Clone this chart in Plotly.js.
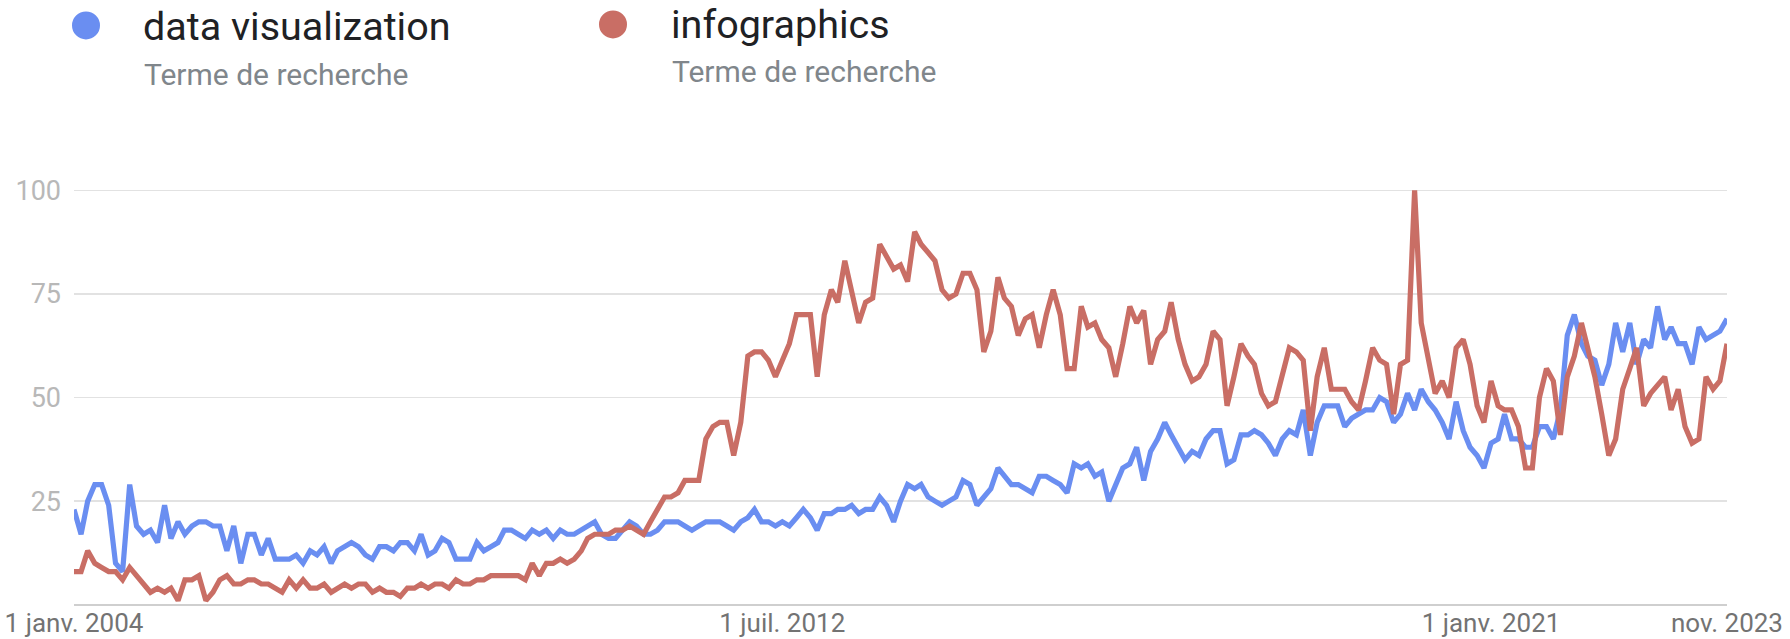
<!DOCTYPE html>
<html>
<head>
<meta charset="utf-8">
<script src="https://cdn.plot.ly/plotly-3.0.1.min.js"></script>
<style>
  html, body { margin: 0; padding: 0; background: #ffffff; }
  #chart { width: 1790px; height: 639px; }
</style>
</head>
<body>
<div id="chart"></div>
<script>
// ---- Data (Google Trends, monthly, Jan 2004 – Nov 2023) ----
const startYear = 2004;
const startMonth = 1;
const monthCount = 239;

const seriesNames = ["data visualization", "infographics"];
const seriesSubtitle = "Terme de recherche";

const dataVisualization = [
  23, 17, 25, 29, 29, 24, 10, 8, 29, 19,
  17, 18, 15, 24, 16, 20, 17, 19, 20, 20,
  19, 19, 13, 19, 10, 17, 17, 12, 16, 11,
  11, 11, 12, 10, 13, 12, 14, 10, 13, 14,
  15, 14, 12, 11, 14, 14, 13, 15, 15, 13,
  17, 12, 13, 16, 15, 11, 11, 11, 15, 13,
  14, 15, 18, 18, 17, 16, 18, 17, 18, 16,
  18, 17, 17, 18, 19, 20, 17, 16, 16, 18,
  20, 19, 17, 17, 18, 20, 20, 20, 19, 18,
  19, 20, 20, 20, 19, 18, 20, 21, 23, 20,
  20, 19, 20, 19, 21, 23, 21, 18, 22, 22,
  23, 23, 24, 22, 23, 23, 26, 24, 20, 25,
  29, 28, 29, 26, 25, 24, 25, 26, 30, 29,
  24, 26, 28, 33, 31, 29, 29, 28, 27, 31,
  31, 30, 29, 27, 34, 33, 34, 31, 32, 25,
  29, 33, 34, 38, 30, 37, 40, 44, 41, 38,
  35, 37, 36, 40, 42, 42, 34, 35, 41, 41,
  42, 41, 39, 36, 40, 42, 41, 47, 36, 44,
  48, 48, 48, 43, 45, 46, 47, 47, 50, 49,
  44, 46, 51, 47, 52, 49, 47, 44, 40, 49,
  42, 38, 36, 33, 39, 40, 46, 40, 40, 38,
  38, 43, 43, 40, 47, 65, 70, 63, 60, 59,
  53, 58, 68, 61, 68, 58, 64, 62, 72, 64,
  67, 63, 63, 58, 67, 64, 65, 66, 69
];

const infographics = [
  8, 8, 13, 10, 9, 8, 8, 6, 9, 7,
  5, 3, 4, 3, 4, 1, 6, 6, 7, 1,
  3, 6, 7, 5, 5, 6, 6, 5, 5, 4,
  3, 6, 4, 6, 4, 4, 5, 3, 4, 5,
  4, 5, 5, 3, 4, 3, 3, 2, 4, 4,
  5, 4, 5, 5, 4, 6, 5, 5, 6, 6,
  7, 7, 7, 7, 7, 6, 10, 7, 10, 10,
  11, 10, 11, 13, 16, 17, 17, 17, 18, 18,
  19, 18, 17, 20, 23, 26, 26, 27, 30, 30,
  30, 40, 43, 44, 44, 36, 44, 60, 61, 61,
  59, 55, 59, 63, 70, 70, 70, 55, 70, 76,
  73, 83, 76, 68, 73, 74, 87, 84, 81, 82,
  78, 90, 87, 85, 83, 76, 74, 75, 80, 80,
  76, 61, 66, 79, 74, 72, 65, 69, 70, 62,
  70, 76, 70, 57, 57, 72, 67, 68, 64, 62,
  55, 63, 72, 68, 71, 58, 64, 66, 73, 64,
  58, 54, 55, 58, 66, 64, 48, 55, 63, 60,
  58, 51, 48, 49, 55, 62, 61, 59, 42, 55,
  62, 52, 52, 52, 49, 47, 54, 62, 59, 58,
  46, 58, 59, 100, 68, 59, 51, 54, 50, 62,
  64, 58, 48, 44, 54, 48, 47, 47, 43, 33,
  33, 50, 57, 54, 41, 55, 60, 68, 62, 55,
  46, 36, 40, 52, 57, 62, 48, 51, 53, 55,
  47, 52, 43, 39, 40, 55, 52, 54, 63
];

const xTickVals = ["2004-01-01", "2012-07-01", "2021-01-01", "2023-11-01"];
const xTickText = ["1 janv. 2004", "1 juil. 2012", "1 janv. 2021", "nov. 2023"];
const yTickVals = [25, 50, 75, 100];
const yTickText = ["25", "50", "75", "100"];

// ---- month axis ----
const months = [];
for (let k = 0; k < monthCount; k++) {
  const m0 = (startMonth - 1) + k;
  const y = startYear + Math.floor(m0 / 12);
  const m = (m0 % 12) + 1;
  months.push(y + "-" + String(m).padStart(2, "0") + "-01");
}

// ---- geometry ----
const W = 1790, H = 639;
const L = 74, R = 63;
const yRange = [-2, 102.5];
const y0px = 604.5, y100px = 190.7;
const pxPerUnit = (y0px - y100px) / 100;
const T = y100px - (yRange[1] - 100) * pxPerUnit;
const bottomPx = y0px + (0 - yRange[0]) * pxPerUnit;
const B = H - bottomPx;
const PW = W - L - R, PH = H - T - B;
const px = x => (x - L) / PW;
const py = y => 1 - (y - T) / PH;

const BLUE = "#6a8ef1";
const RED = "#c96e65";
const FONT = "Roboto, 'Noto Sans', Arial, sans-serif";

const traces = [
  { x: months, y: dataVisualization, name: seriesNames[0], type: "scatter", mode: "lines",
    line: { color: BLUE, width: 5.2 }, hoverinfo: "x+y" },
  { x: months, y: infographics, name: seriesNames[1], type: "scatter", mode: "lines",
    line: { color: RED, width: 5.2 }, hoverinfo: "x+y" }
];

function circle(cx, cy, r, color) {
  return { type: "circle", xref: "paper", yref: "paper",
    x0: px(cx - r), x1: px(cx + r), y0: py(cy + r), y1: py(cy - r),
    fillcolor: color, line: { width: 0 }, layer: "above" };
}
function label(text, x, y, size, color) {
  return { text: text, xref: "paper", yref: "paper", x: px(x), y: py(y),
    xanchor: "left", yanchor: "middle", showarrow: false,
    font: { family: FONT, size: size, color: color } };
}

const layout = {
  width: W, height: H,
  margin: { l: L, r: R, t: T, b: B, pad: 0 },
  paper_bgcolor: "#ffffff", plot_bgcolor: "#ffffff",
  showlegend: false,
  font: { family: FONT },
  xaxis: {
    type: "date",
    range: [months[0], months[months.length - 1]],
    tickmode: "array", tickvals: xTickVals, ticktext: xTickText,
    showgrid: false, zeroline: false, showline: false, ticks: "",
    ticklabeloverflow: "allow", ticklabelstandoff: -8,
    tickfont: { family: FONT, size: 26, color: "#737373" },
    fixedrange: true
  },
  yaxis: {
    range: yRange,
    tickmode: "array", tickvals: yTickVals, ticktext: yTickText,
    showgrid: true, gridcolor: "#e2e2e2", gridwidth: 1.4,
    zeroline: true, zerolinecolor: "#cfcfcf", zerolinewidth: 1.6,
    showline: false, ticks: "", ticklabelstandoff: 12,
    tickfont: { family: FONT, size: 27, color: "#b8b8b8" },
    fixedrange: true
  },
  shapes: [
    circle(86, 26, 14, BLUE),
    circle(613, 25, 14, RED)
  ],
  annotations: [
    label(seriesNames[0], 141, 27, 39.5, "#202124"),
    label(seriesSubtitle, 142, 75, 30, "#80868b"),
    label(seriesNames[1], 669, 25, 39.5, "#202124"),
    label(seriesSubtitle, 670, 72, 30, "#80868b")
  ]
};

Plotly.newPlot("chart", traces, layout, { displayModeBar: false, staticPlot: true });
</script>
</body>
</html>
